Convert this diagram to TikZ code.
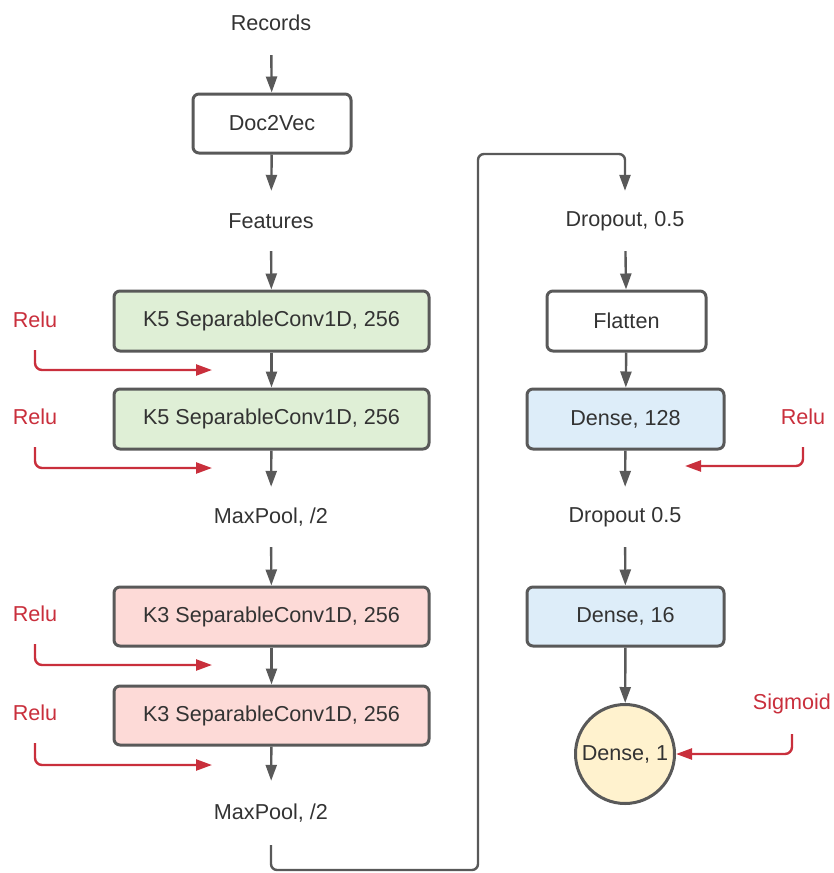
\documentclass[tikz,border=0pt]{standalone}
\usepackage{fontspec}
\setmainfont{Liberation Sans}
\usetikzlibrary{arrows.meta}
\definecolor{lgray}{HTML}{595959}
\definecolor{txt}{HTML}{333333}
\definecolor{rred}{HTML}{C92F3C}
\definecolor{gfill}{HTML}{DFEFD6}
\definecolor{pfill}{HTML}{FDDAD7}
\definecolor{bfill}{HTML}{DDEDF9}
\definecolor{yfill}{HTML}{FFF2CE}
\tikzset{
  box/.style={draw=lgray, line width=3pt, rounded corners=6pt, text=txt, inner sep=0pt},
  lbl/.style={text=txt, minimum height=60pt, inner sep=0pt},
  rlbl/.style={text=rred, minimum height=60pt, inner sep=0pt},
  arr/.style={draw=lgray, line width=2.4pt, -{Triangle[length=16pt,width=11pt]}},
  rarr/.style={draw=rred, line width=2.4pt, rounded corners=7pt, -{Triangle[length=16pt,width=11pt]}},
}
\begin{document}
\begin{tikzpicture}[x=1pt,y=-1pt, font=\fontsize{21.6}{26}\selectfont]
\useasboundingbox (0,0) rectangle (834,873);
% left column
\node[lbl, minimum height=64pt] (rec) at (271,23) {Records};
\node[box, minimum width=158pt, minimum height=59pt] (doc) at (272,123.5) {Doc2Vec};
\node[lbl] (feat) at (271,221) {Features};
\node[box, fill=gfill, minimum width=315pt, minimum height=60pt] (k5a) at (271.5,321) {K5 SeparableConv1D, 256};
\node[box, fill=gfill, minimum width=315pt, minimum height=60pt] (k5b) at (271.5,419) {K5 SeparableConv1D, 256};
\node[lbl] (mp1) at (271,517) {MaxPool, /2};
\node[box, fill=pfill, minimum width=315pt, minimum height=59pt] (k3a) at (271.5,616.5) {K3 SeparableConv1D, 256};
\node[box, fill=pfill, minimum width=315pt, minimum height=59pt] (k3b) at (271.5,715.5) {K3 SeparableConv1D, 256};
\node[lbl, minimum height=64pt] (mp2) at (271,813) {MaxPool, /2};
% right column
\node[lbl] (dr1) at (625,221) {Dropout, 0.5};
\node[box, minimum width=159pt, minimum height=60pt] (flat) at (626.5,321) {Flatten};
\node[box, fill=bfill, minimum width=197pt, minimum height=60pt] (d128) at (625.5,419) {Dense, 128};
\node[lbl] (dr2) at (625,517) {Dropout 0.5};
\node[box, fill=bfill, minimum width=197pt, minimum height=59pt] (d16) at (625.5,616.5) {Dense, 16};
\node[circle, draw=lgray, line width=3pt, fill=yfill, text=txt, minimum size=99pt, inner sep=0pt] (d1) at (625,754) {Dense, 1};
% main arrows
\draw[arr] (rec) -- (doc);
\draw[arr] (doc) -- (feat);
\draw[arr] (feat) -- (k5a);
\draw[arr] (k5a) -- (k5b);
\draw[arr] (k5b) -- (mp1);
\draw[arr] (mp1) -- (k3a);
\draw[arr] (k3a) -- (k3b);
\draw[arr] (k3b) -- (mp2);
\coordinate (cb) at (478,870);
\coordinate (ct) at (478,154);
\draw[arr, rounded corners=6pt] (mp2.south) |- (cb) -- (ct) -| (dr1.north);
\draw[arr] (dr1) -- (flat);
\draw[arr] (flat) -- (d128);
\draw[arr] (d128) -- (dr2);
\draw[arr] (dr2) -- (d16);
\draw[arr] (d16) -- (d1);
% activation labels
\node[rlbl] (r1) at (35,320) {Relu};
\node[rlbl] (r2) at (35,417) {Relu};
\node[rlbl] (r3) at (35,614) {Relu};
\node[rlbl] (r4) at (35,713) {Relu};
\node[rlbl] (r5) at (803,417) {Relu};
\node[rlbl] (sg) at (792,704) {Sigmoid};
\coordinate (t1) at (212,370);
\coordinate (t2) at (212,468);
\coordinate (t3) at (212,665);
\coordinate (t4) at (212,765);
\coordinate (t5) at (685,466);
\draw[rarr] (r1.south) |- (t1);
\draw[rarr] (r2.south) |- (t2);
\draw[rarr] (r3.south) |- (t3);
\draw[rarr] (r4.south) |- (t4);
\draw[rarr] (r5.south) |- (t5);
\draw[rarr] (sg.south) |- (d1.east);
\end{tikzpicture}
\end{document}
